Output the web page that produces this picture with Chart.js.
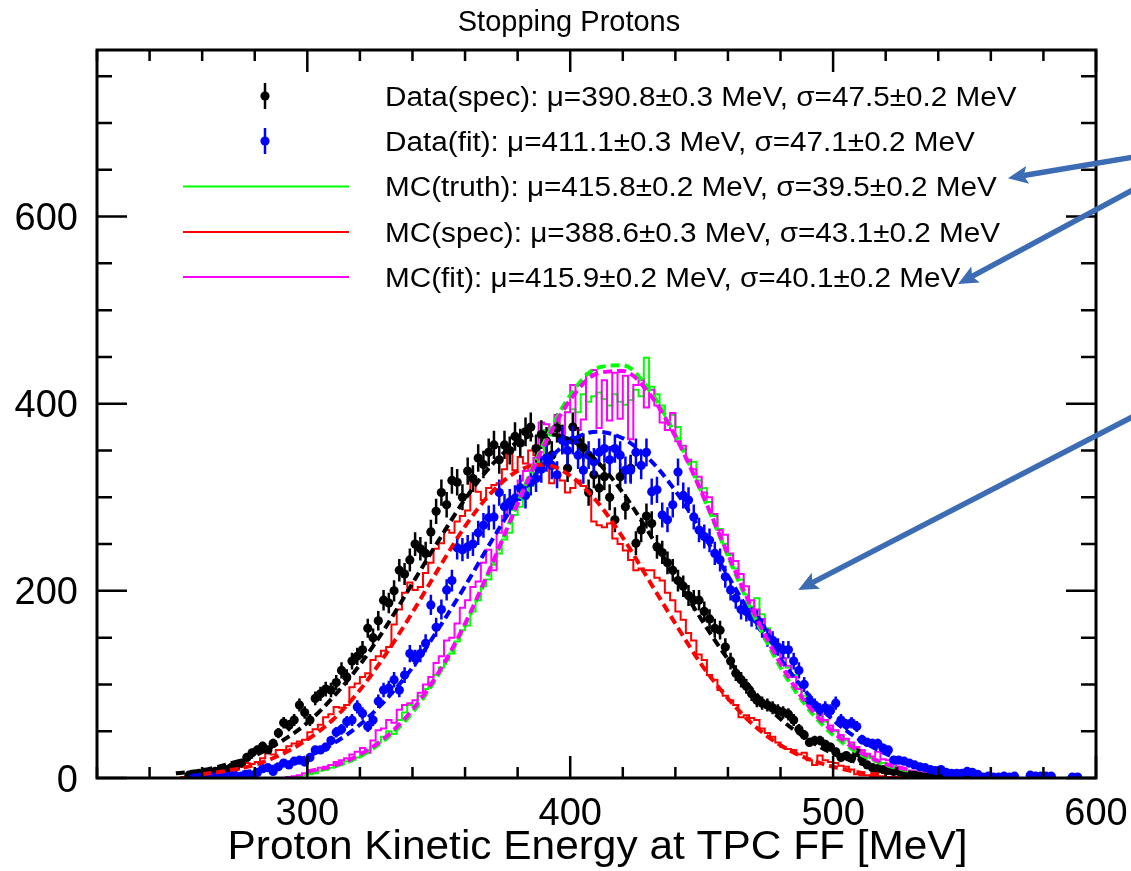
<!DOCTYPE html>
<html>
<head>
<meta charset="utf-8">
<title>Stopping Protons</title>
<script src="https://cdn.jsdelivr.net/npm/chart.js@4.4.1/dist/chart.umd.min.js"></script>
<style>
  html, body { margin: 0; background: #fff; }
  canvas { display: block; }
</style>
</head>
<body>
<canvas id="ke" width="1131" height="871"></canvas>
<script>
// binning and axis ranges
const binWidth = 2;                 // MeV
const xRange = [220, 600];
const yRange = [0, 778];
const xMajorTicks = [300, 400, 500, 600];
const yMajorTicks = [0, 200, 400, 600];
const xMinorStep = 20;
const yMinorStep = 50;

// Data(spec) counts, bins from 254 MeV
const dataSpecStart = 254;
const dataSpec = [
  3, 4, 5, 6, 6, 7, 8, 9, 11, 14,
  16, 22, 27, 30, 34, 30, 37, 48, 59, 56,
  62, 78, 70, 62, 85, 90, 95, 94, 102, 115,
  108, 125, 130, 137, 160, 150, 168, 190, 187, 200,
  222, 218, 233, 250, 245, 240, 263, 285, 305, 292,
  318, 316, 300, 328, 320, 342, 335, 348, 356, 340,
  356, 350, 365, 358, 370, 375, 352, 367, 360, 345,
  374, 362, 331, 375, 360, 353, 305, 324, 310, 322,
  300, 276, 322, 290, 331, 251, 265, 280, 272, 247,
  241, 230, 222, 211, 205, 195, 190, 190, 178, 170,
  160, 158, 140, 125, 112, 105, 98, 90, 83, 80,
  78, 75, 72, 70, 68, 62, 52, 46, 38, 40,
  40, 36, 33, 28, 22, 24, 21, 27, 20, 14,
  11, 10, 9, 8, 7, 7, 5, 3, 3, 2,
  1, 2, 1, 1, 3, 2, 1, 1, 1
];

// Data(fit) counts, bins from 256 MeV
const dataFitStart = 256;
const dataFit = [
  1, 1, 1, 2, 1, 2, 2, 1, 2, 2,
  3, 3, 6, 10, 11, 7, 12, 16, 14, 18,
  19, 17, 22, 30, 30, 33, 40, 49, 52, 60,
  62, 76, 69, 55, 62, 82, 94, 96, 105, 94,
  110, 133, 128, 133, 144, 185, 161, 180, 201, 211,
  246, 244, 247, 250, 262, 270, 278, 279, 305, 290,
  295, 299, 310, 302, 316, 320, 330, 342, 334, 324,
  361, 350, 361, 345, 329, 345, 338, 348, 352, 340,
  352, 345, 329, 329, 348, 334, 348, 306, 308, 281,
  276, 292, 327, 302, 297, 279, 265, 258, 254, 240,
  233, 215, 201, 192, 180, 178, 172, 169, 160, 150,
  147, 140, 137, 137, 125, 115, 100, 83, 78, 73,
  75, 72, 80, 62, 57, 59, 55, 41, 38, 37,
  37, 32, 30, 19, 19, 18, 16, 14, 12, 11,
  9, 8, 9, 6, 5, 5, 5, 7, 6, 4,
  1, 2, 1, 1, 2, 1, 2, 0, 0, 3,
  2, 2, 2, 2, 0, 0, 0, 1, 1
];

// MC(truth) histogram, bins from 290 MeV
const mcTruthStart = 290;
const mcTruth = [
  0, 1, 1, 2, 3, 4, 5, 8, 9, 11,
  13, 15, 18, 20, 22, 26, 30, 33, 38, 44,
  50, 47, 62, 70, 78, 76, 88, 95, 102, 110,
  118, 126, 133, 146, 158, 163, 178, 190, 205, 212,
  228, 240, 255, 262, 281, 290, 306, 312, 330, 338,
  372, 366, 380, 377, 391, 394, 391, 410, 402, 408,
  412, 405, 398, 410, 402, 399, 404, 415, 408, 449,
  418, 410, 398, 372, 388, 375, 352, 340, 338, 318,
  310, 295, 280, 266, 250, 238, 224, 212, 196, 183,
  192, 175, 160, 148, 136, 128, 118, 110, 96, 88,
  80, 74, 66, 60, 54, 50, 44, 40, 36, 30,
  28, 24, 21, 18, 16, 14, 12, 10, 9, 7,
  6, 5, 4, 3, 3, 2, 2, 1, 1
];

// MC(spec) histogram, bins from 250 MeV
const mcSpecStart = 250;
const mcSpec = [
  0, 1, 1, 2, 2, 3, 3, 4, 5, 6,
  8, 9, 12, 16, 15, 17, 21, 27, 25, 30,
  30, 34, 37, 39, 41, 49, 52, 57, 65, 68,
  76, 75, 78, 97, 101, 108, 112, 126, 130, 136,
  140, 164, 180, 198, 209, 201, 204, 219, 230, 245,
  251, 265, 262, 274, 280, 286, 316, 306, 297, 310,
  313, 315, 330, 347, 329, 343, 336, 350, 345, 332,
  340, 315, 322, 318, 305, 310, 318, 312, 305, 274,
  270, 268, 272, 256, 250, 243, 233, 222, 224, 222,
  222, 214, 211, 198, 190, 178, 169, 155, 147, 132,
  126, 110, 105, 94, 88, 83, 78, 65, 67, 64,
  62, 53, 48, 44, 38, 33, 31, 30, 25, 27,
  19, 14, 24, 19, 17, 16, 13, 12, 9, 4,
  3, 3, 2, 2, 2, 1, 1, 1, 1, 0
];

// MC(fit) histogram, bins from 290 MeV
const mcFitStart = 290;
const mcFit = [
  0, 1, 2, 3, 5, 6, 8, 11, 12, 14,
  17, 19, 21, 25, 28, 32, 27, 40, 51, 53,
  62, 59, 73, 78, 80, 83, 91, 100, 108, 123,
  130, 147, 150, 165, 182, 190, 204, 210, 230, 244,
  222, 262, 280, 297, 300, 318, 328, 335, 342, 380,
  378, 372, 388, 366, 391, 420, 372, 383, 432, 436,
  374, 425, 382, 433, 384, 430, 362, 420, 425, 396,
  415, 398, 380, 372, 390, 360, 355, 340, 330, 322,
  305, 300, 282, 265, 260, 240, 232, 218, 205, 190,
  180, 170, 158, 150, 140, 128, 120, 108, 95, 82,
  78, 73, 68, 62, 56, 51, 46, 42, 38, 33,
  30, 26, 23, 28, 20, 19, 15, 12, 10, 8,
  7, 6, 5, 4, 3, 2, 2, 1, 1
];

// gaussian fit curves sampled every 10 MeV
const fitGrid = [250, 260, 270, 280, 290, 300, 310, 320, 330, 340, 350, 360, 370, 380, 390,
                 400, 410, 420, 430, 440, 450, 460, 470, 480, 490, 500, 510, 520, 530, 540, 550];
const fitDataSpec = [5, 8, 15, 24, 39, 59, 87, 121, 162, 208, 254, 298, 334, 359, 368,
                     361, 339, 305, 262, 215, 169, 127, 92, 63, 42, 26, 16, 9, 5, null, null];
const fitDataFit = [null, null, 4, 8, 14, 23, 37, 57, 84, 118, 160, 205, 253, 298, 335,
                    360, 370, 363, 341, 307, 263, 216, 169, 127, 91, 62, 41, 26, 15, 9, 5];
const fitMcSpec = [null, 4, 8, 14, 25, 41, 63, 94, 133, 177, 224, 269, 305, 328, 335,
                   323, 296, 257, 211, 165, 121, 85, 56, 35, 21, 12, 6, 3, null, null, null];
const fitMcTruth = [null, null, null, null, null, 6, 12, 23, 42, 70, 111, 163, 226, 294, 358,
                    409, 438, 441, 415, 367, 305, 237, 173, 118, 76, 46, 26, 14, 7, null, null];
const fitMcFit = [null, null, null, null, null, 7, 13, 25, 44, 73, 113, 165, 227, 293, 355,
                  404, 432, 435, 411, 365, 305, 239, 176, 122, 79, 49, 28, 15, 8, null, null];

// legend: fit results
const seriesNames = ['Data(spec)', 'Data(fit)', 'MC(truth)', 'MC(spec)', 'MC(fit)'];
const fitMu = [390.8, 411.1, 415.8, 388.6, 415.9];
const fitMuErr = [0.3, 0.3, 0.2, 0.3, 0.2];
const fitSigma = [47.5, 47.1, 39.5, 43.1, 40.1];
const fitSigmaErr = [0.2, 0.2, 0.2, 0.2, 0.2];

const seriesColors = ['#000000', '#0000ff', '#00ff00', '#ff0000', '#ff00ff'];
const FONT = "'Liberation Sans', Arial, Helvetica, sans-serif";
const MARKER_R = 4.6;

// arrows pasted over the plot, in axis units (tail -> head)
const callouts = [
  { from: [616.7, 664.8], to: [566.5, 641.0] },
  { from: [616.7, 632.7], to: [547.5, 527.9] },
  { from: [616.7, 390.0], to: [486.7, 200.9] }
];

function histLine(start, vals) {
  const pts = [{ x: xRange[0], y: 0 }];
  vals.forEach((v, i) => pts.push({ x: start + i * binWidth, y: v }));
  pts.push({ x: start + vals.length * binWidth, y: 0 }, { x: xRange[1], y: 0 });
  return pts;
}
function binPoints(start, vals) {
  return vals.map((v, i) => ({ x: start + (i + 0.5) * binWidth, y: v })).filter(p => p.y > 0);
}
function fitLine(vals) {
  return fitGrid.map((x, i) => ({ x, y: vals[i] })).filter(p => p.y != null);
}
const statErr = v => 0.8 * Math.sqrt(v);

const fitStyle = c => ({
  type: 'line', showLine: true, pointRadius: 0, borderColor: c, borderWidth: 4,
  borderDash: [9, 5], fill: false, cubicInterpolationMode: 'monotone'
});
const histStyle = c => ({
  type: 'line', showLine: true, pointRadius: 0, borderColor: c, borderWidth: 2,
  stepped: true, fill: false
});
const pointStyle = c => ({
  showLine: false, pointRadius: MARKER_R, pointBackgroundColor: c, pointBorderWidth: 0,
  borderColor: c, errorBars: true
});

// first dataset ends up on top
const datasets = [
  { label: 'MC(fit) fit', data: fitLine(fitMcFit), ...fitStyle(seriesColors[4]) },
  { label: 'MC(truth) fit', data: fitLine(fitMcTruth), ...fitStyle(seriesColors[2]) },
  { label: 'Data(fit) fit', data: fitLine(fitDataFit), ...fitStyle(seriesColors[1]) },
  { label: 'MC(spec) fit', data: fitLine(fitMcSpec), ...fitStyle(seriesColors[3]) },
  { label: 'Data(spec) fit', data: fitLine(fitDataSpec), ...fitStyle(seriesColors[0]) },
  { label: seriesNames[1], data: binPoints(dataFitStart, dataFit), ...pointStyle(seriesColors[1]) },
  { label: seriesNames[0], data: binPoints(dataSpecStart, dataSpec), ...pointStyle(seriesColors[0]) },
  { label: seriesNames[4], data: histLine(mcFitStart, mcFit), ...histStyle(seriesColors[4]) },
  { label: seriesNames[2], data: histLine(mcTruthStart, mcTruth), ...histStyle(seriesColors[2]) },
  { label: seriesNames[3], data: histLine(mcSpecStart, mcSpec), ...histStyle(seriesColors[3]) }
];

const errorBars = {
  id: 'errorBars',
  beforeDatasetDraw(chart, args) {
    const ds = chart.data.datasets[args.index];
    if (!ds.errorBars) return;
    const { ctx, chartArea: a, scales: { y } } = chart;
    ctx.save();
    ctx.beginPath();
    ctx.rect(a.left, a.top, a.right - a.left, a.bottom - a.top);
    ctx.clip();
    ctx.strokeStyle = ds.borderColor;
    ctx.lineWidth = 2.5;
    ctx.beginPath();
    args.meta.data.forEach((pt, i) => {
      const v = ds.data[i].y, e = statErr(v);
      ctx.moveTo(pt.x, y.getPixelForValue(v - e));
      ctx.lineTo(pt.x, y.getPixelForValue(v + e));
    });
    ctx.stroke();
    ctx.restore();
  }
};

function stretchedText(ctx, text, x, y, sx) {
  ctx.save();
  ctx.translate(x, y);
  ctx.scale(sx, 1);
  ctx.fillText(text, 0, 0);
  ctx.restore();
}

// ROOT style frame: ticks on all four sides pointing inward
const frameAxes = {
  id: 'frameAxes',
  afterDatasetsDraw(chart) {
    const { ctx, chartArea: a, scales: { x, y } } = chart;
    ctx.save();
    ctx.strokeStyle = '#000';
    ctx.lineWidth = 2.5;
    ctx.beginPath();
    for (let v = xRange[0]; v <= xRange[1]; v += xMinorStep) {
      const px = x.getPixelForValue(v);
      const len = xMajorTicks.includes(v) ? 22 : 11;
      ctx.moveTo(px, a.bottom); ctx.lineTo(px, a.bottom - len);
      ctx.moveTo(px, a.top); ctx.lineTo(px, a.top + len);
    }
    for (let v = yRange[0]; v <= yRange[1]; v += yMinorStep) {
      const py = y.getPixelForValue(v);
      const len = yMajorTicks.includes(v) ? 30 : 15;
      ctx.moveTo(a.left, py); ctx.lineTo(a.left + len, py);
      ctx.moveTo(a.right, py); ctx.lineTo(a.right - len, py);
    }
    ctx.stroke();
    ctx.lineWidth = 3;
    ctx.strokeRect(a.left, a.top, a.right - a.left, a.bottom - a.top);

    ctx.fillStyle = '#000';
    ctx.font = `38px ${FONT}`;
    ctx.textAlign = 'center';
    ctx.textBaseline = 'alphabetic';
    xMajorTicks.forEach(v => ctx.fillText(String(v), x.getPixelForValue(v), a.bottom + 47));
    ctx.textAlign = 'right';
    yMajorTicks.forEach(v => ctx.fillText(String(v), a.left - 19, y.getPixelForValue(v) + 13.6));

    ctx.textAlign = 'center';
    ctx.font = `40px ${FONT}`;
    stretchedText(ctx, 'Proton Kinetic Energy at TPC FF [MeV]', (a.left + a.right) / 2 + 1, a.bottom + 81, 1.06);

    ctx.font = `29px ${FONT}`;
    ctx.fillText('Stopping Protons', 569, 31);
    ctx.restore();
  },
  afterDraw(chart) {
    const { ctx, scales: { x, y } } = chart;
    ctx.save();

    // legend
    const rows = [96, 141, 186.5, 232, 277];
    ctx.font = `27px ${FONT}`;
    ctx.textAlign = 'left';
    ctx.textBaseline = 'alphabetic';
    seriesNames.forEach((name, i) => {
      const ry = rows[i], c = seriesColors[i];
      if (i < 2) {
        ctx.strokeStyle = c; ctx.lineWidth = 2.5;
        ctx.beginPath(); ctx.moveTo(265, ry - 13); ctx.lineTo(265, ry + 13); ctx.stroke();
        ctx.fillStyle = c;
        ctx.beginPath(); ctx.arc(265, ry, MARKER_R, 0, Math.PI * 2); ctx.fill();
      } else {
        ctx.strokeStyle = c; ctx.lineWidth = 2;
        ctx.beginPath(); ctx.moveTo(183, ry); ctx.lineTo(349, ry); ctx.stroke();
      }
      const txt = `${name}: \u03bc=${fitMu[i].toFixed(1)}\u00b1${fitMuErr[i].toFixed(1)} MeV, ` +
                  `\u03c3=${fitSigma[i].toFixed(1)}\u00b1${fitSigmaErr[i].toFixed(1)} MeV`;
      ctx.fillStyle = '#000';
      stretchedText(ctx, txt, 385, ry + 9.6, 1.1);
    });

    // call-out arrows
    ctx.strokeStyle = '#3c6cb4';
    ctx.fillStyle = '#3c6cb4';
    ctx.lineWidth = 5.5;
    ctx.lineCap = 'butt';
    callouts.forEach(({ from, to }) => {
      const x0 = x.getPixelForValue(from[0]), y0 = y.getPixelForValue(from[1]);
      const x1 = x.getPixelForValue(to[0]), y1 = y.getPixelForValue(to[1]);
      const ang = Math.atan2(y1 - y0, x1 - x0);
      const headLen = 20, headHalf = 9;
      const bx = x1 - headLen * Math.cos(ang), by = y1 - headLen * Math.sin(ang);
      ctx.beginPath(); ctx.moveTo(x0, y0); ctx.lineTo(bx + 4 * Math.cos(ang), by + 4 * Math.sin(ang)); ctx.stroke();
      ctx.beginPath();
      ctx.moveTo(x1, y1);
      ctx.lineTo(bx + headHalf * Math.sin(ang), by - headHalf * Math.cos(ang));
      ctx.lineTo(bx + 4 * Math.cos(ang), by + 4 * Math.sin(ang));
      ctx.lineTo(bx - headHalf * Math.sin(ang), by + headHalf * Math.cos(ang));
      ctx.closePath();
      ctx.fill();
    });
    ctx.restore();
  }
};

new Chart(document.getElementById('ke'), {
  type: 'scatter',
  data: { datasets },
  options: {
    responsive: false,
    animation: false,
    events: [],
    layout: { padding: { left: 97, right: 35, top: 50, bottom: 93 } },
    plugins: { legend: { display: false }, tooltip: { enabled: false }, title: { display: false } },
    scales: {
      x: { type: 'linear', min: xRange[0], max: xRange[1], display: false },
      y: { type: 'linear', min: yRange[0], max: yRange[1], display: false }
    }
  },
  plugins: [errorBars, frameAxes]
});
</script>
</body>
</html>
